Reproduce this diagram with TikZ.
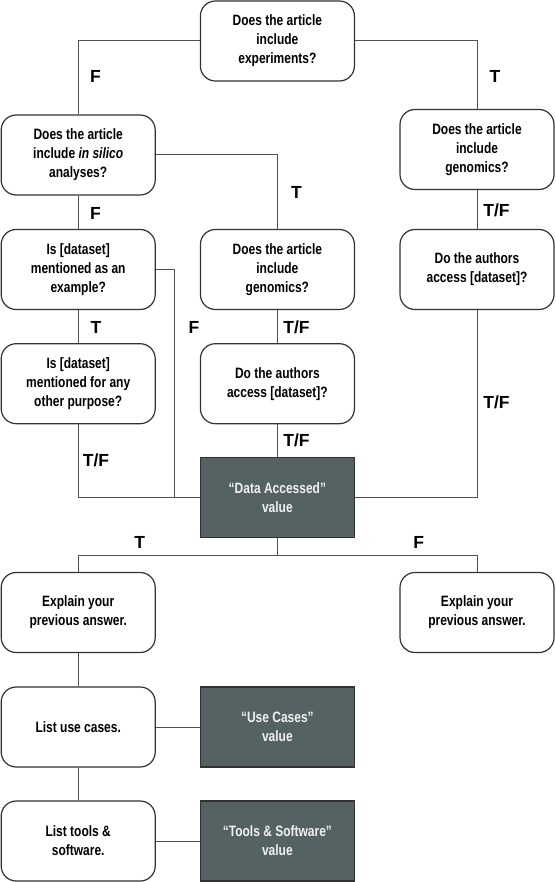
\documentclass[tikz,border=0pt]{standalone}
\usepackage{fontspec}
\setmainfont{Liberation Sans}
\newfontfamily\boxfont[FakeStretch=0.8]{Liberation Sans}
\definecolor{boxline}{RGB}{50,50,50}
\definecolor{conn}{RGB}{80,80,80}
\definecolor{valfill}{RGB}{84,98,99}
\begin{document}
\begin{tikzpicture}[x=1pt,y=-1pt,
  qbox/.style={draw=boxline, line width=1.2pt, rounded corners=15pt, fill=white,
    minimum width=154pt, minimum height=80pt, align=center, inner sep=0pt,
    font=\boxfont\bfseries\fontsize{15}{19}\selectfont},
  vbox/.style={draw=boxline, line width=1.2pt, fill=valfill, text=white!94!black,
    minimum width=154pt, minimum height=80pt, align=center, inner sep=0pt,
    font=\boxfont\bfseries\fontsize{15}{19}\selectfont},
  lbl/.style={font=\bfseries\fontsize{17.5}{17.5}\selectfont, inner sep=0pt, text height=12.5pt, text depth=0pt},
  cn/.style={draw=conn, line width=1pt}]
\useasboundingbox (0,0) rectangle (555,882);
% question boxes
\node[qbox] (top) at (277.4,41) {Does the article\\include\\experiments?};
\node[qbox] (silico) at (78.2,155) {Does the article\\include \textit{in silico}\\analyses?};
\node[qbox] (rgen) at (477,149.5) {Does the article\\include\\genomics?};
\node[qbox] (ex) at (78.2,269.5) {Is [dataset]\\mentioned as an\\example?};
\node[qbox] (cgen) at (277.4,269.5) {Does the article\\include\\genomics?};
\node[qbox] (racc) at (477,269.5) {Do the authors\\access [dataset]?};
\node[qbox] (other) at (78.2,383.7) {Is [dataset]\\mentioned for any\\other purpose?};
\node[qbox] (cacc) at (277.4,383.7) {Do the authors\\access [dataset]?};
\node[vbox] (data) at (277.4,497.8) {“Data Accessed”\\value};
\node[qbox] (expL) at (78.2,612.5) {Explain your\\previous answer.};
\node[qbox] (expR) at (477,612.5) {Explain your\\previous answer.};
\node[qbox] (use) at (78.2,727) {List use cases.};
\node[vbox] (usev) at (277.4,727) {“Use Cases”\\value};
\node[qbox] (tools) at (78.2,841) {List tools \&\\software.};
\node[vbox] (toolsv) at (277.4,841) {“Tools \& Software”\\value};
% helper coordinates
\coordinate (fj) at (174.8,497.8);
\coordinate (split) at (277.4,555.7);
% connectors
\draw[cn] (top.west) -| (silico.north);
\draw[cn] (top.east) -| (rgen.north);
\draw[cn] (silico.east) -| (cgen.north);
\draw[cn] (silico.south) -- (ex.north);
\draw[cn] (rgen.south) -- (racc.north);
\draw[cn] (ex.east) -| (fj) -- (data.west);
\draw[cn] (ex.south) -- (other.north);
\draw[cn] (other.south) |- (data.west);
\draw[cn] (cgen.south) -- (cacc.north);
\draw[cn] (cacc.south) -- (data.north);
\draw[cn] (racc.south) |- (data.east);
\draw[cn] (data.south) -- (split);
\draw[cn] (expL.north) |- (split) -| (expR.north);
\draw[cn] (expL.south) -- (use.north);
\draw[cn] (use.south) -- (tools.north);
\draw[cn] (use.east) -- (usev.west);
\draw[cn] (tools.east) -- (toolsv.west);
% labels
\node[lbl] (l1) at (95.5,76) {F};
\node[lbl] (l2) at (495,76) {T};
\node[lbl] (l3) at (296.5,192.7) {T};
\node[lbl] (l4) at (95.5,213.3) {F};
\node[lbl] (l5) at (496.5,210.7) {T/F};
\node[lbl] (l6) at (96,327) {T};
\node[lbl] (l7) at (194,327) {F};
\node[lbl] (l8) at (296.5,327) {T/F};
\node[lbl] (l9) at (96,460) {T/F};
\node[lbl] (l10) at (296.5,440) {T/F};
\node[lbl] (l11) at (496.5,402.7) {T/F};
\node[lbl] (l12) at (139.8,542.7) {T};
\node[lbl] (l13) at (418.6,542.7) {F};
\end{tikzpicture}
\end{document}
